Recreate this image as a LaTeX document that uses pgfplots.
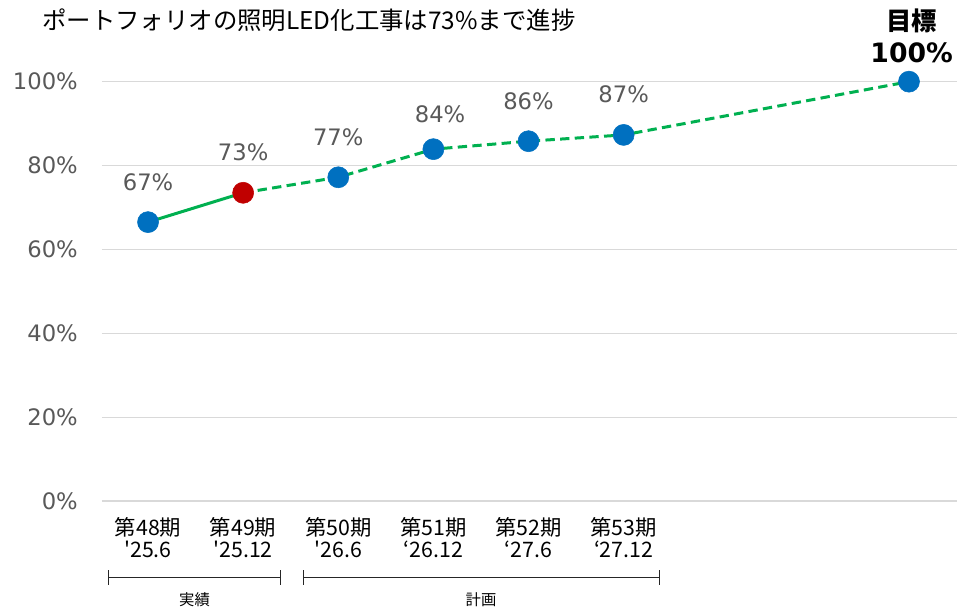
\documentclass[border=0pt]{standalone}
\usepackage{pgfplots}
\pgfplotsset{compat=1.18}
\usepackage{fontspec}
\setmainfont{DejaVu Sans}
\newfontfamily\jp{Noto Sans CJK JP}[Ligatures=TeXOff]
\newfontfamily\vd{DejaVu Sans}
\definecolor{tgray}{HTML}{595959}
\definecolor{gridc}{HTML}{D9D9D9}
\definecolor{lgreen}{HTML}{00B050}
\definecolor{mblue}{HTML}{0070C0}
\definecolor{mred}{HTML}{C00000}
\begin{document}
\begin{tikzpicture}[x=0.75pt,y=0.75pt]
\useasboundingbox (0,0) rectangle (957,609);
\begin{axis}[
  at={(76.5pt,81pt)}, anchor=south west,
  scale only axis, width=641.25pt, height=314.5pt,
  xmin=-0.484, xmax=8.505, ymin=0, ymax=100,
  axis line style={draw=none},
  ymajorgrids, major grid style={draw=gridc, line width=0.9pt},
  major tick length=0pt,
  ytick={0,20,40,60,80,100},
  yticklabels={0\%,20\%,40\%,60\%,80\%,100\%},
  yticklabel style={font=\vd\fontsize{17}{20}\selectfont, text=tgray, inner sep=0pt, xshift=-18pt},
  xtick={0,1,2,3,4,5},
  xticklabels={{第48期\\'25.6},{第49期\\'25.12},{第50期\\'26.6},{第51期\\‘26.12},{第52期\\‘27.6},{第53期\\‘27.12}},
  xticklabel style={font=\jp\fontsize{16}{17}\selectfont, align=center, anchor=north, inner sep=0pt, yshift=-12pt},
  clip=false,
]
\addplot[lgreen, line width=2.25pt, no marks] coordinates {(0,66.5) (1,73.5)};
\addplot[lgreen, line width=2.25pt, dash pattern=on 7pt off 4pt, no marks] coordinates {(1,73.5) (2,77.2) (3,83.9) (4,85.8) (5,87.3) (8,100)};
\addplot[only marks, mark=*, color=mblue, mark size=7.9pt, mark options={draw=none, fill=mblue}] coordinates {(0,66.5) (2,77.2) (3,83.9) (4,85.8) (5,87.3) (8,100)};
\addplot[only marks, mark=*, color=mred, mark size=7.9pt, mark options={draw=none, fill=mred}] coordinates {(1,73.5)};
\node[anchor=base, text=tgray, font=\vd\fontsize{17}{20}\selectfont, yshift=24pt] at (axis cs:0,66.5) {67\%};
\node[anchor=base, text=tgray, font=\vd\fontsize{17}{20}\selectfont, yshift=24pt] at (axis cs:1,73.5) {73\%};
\node[anchor=base, text=tgray, font=\vd\fontsize{17}{20}\selectfont, yshift=24pt] at (axis cs:2,77.2) {77\%};
\node[anchor=base, text=tgray, font=\vd\fontsize{17}{20}\selectfont, yshift=19.7pt, xshift=5pt] at (axis cs:3,83.9) {84\%};
\node[anchor=base, text=tgray, font=\vd\fontsize{17}{20}\selectfont, yshift=24pt] at (axis cs:4,85.8) {86\%};
\node[anchor=base, text=tgray, font=\vd\fontsize{17}{20}\selectfont, yshift=24pt] at (axis cs:5,87.3) {87\%};
\node[anchor=base, font=\jp\bfseries\fontsize{19}{22}\selectfont, yshift=38pt, xshift=2pt] at (axis cs:8,100) {目標};
\node[anchor=base, font=\vd\bfseries\fontsize{20}{24}\selectfont, yshift=14pt, xshift=2pt] at (axis cs:8,100) {100\%};
\end{axis}
\node[anchor=west, font=\jp\fontsize{18.3}{21}\selectfont, inner sep=0pt] at (42,589) {ポートフォリオの照明LED化工事は73\%まで進捗};
\draw[line width=0.8pt, black!85] (108.3,31.3) -- (280.7,31.3) (108.3,24) -- (108.3,39) (280.7,24) -- (280.7,39);
\draw[line width=0.8pt, black!85] (303.3,31.3) -- (659.3,31.3) (303.3,24) -- (303.3,39) (659.3,24) -- (659.3,39);
\node[font=\jp\fontsize{11.5}{13}\selectfont, inner sep=0pt] at (194.5,9) {実績};
\node[font=\jp\fontsize{11.5}{13}\selectfont, inner sep=0pt] at (481,9) {計画};
\end{tikzpicture}
\end{document}
